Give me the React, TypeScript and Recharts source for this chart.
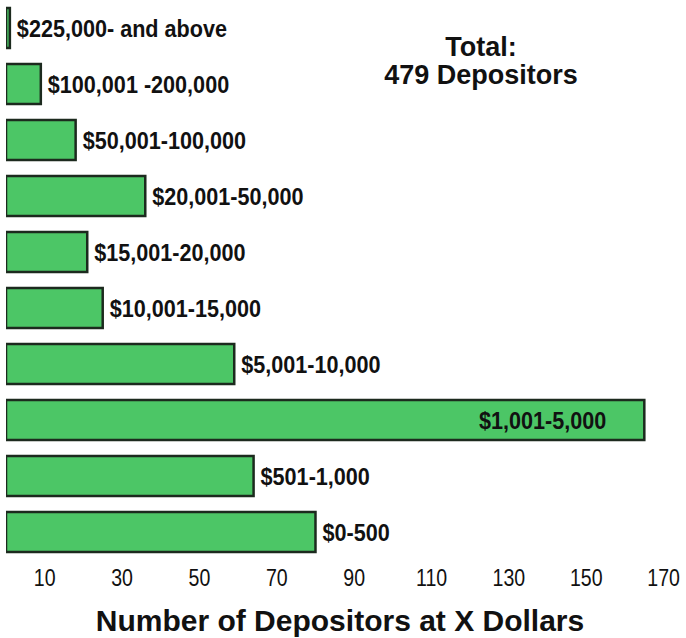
import { BarChart, Bar, XAxis, YAxis, LabelList } from 'recharts';

const categories = [
  '$225,000- and above',
  '$100,001 -200,000',
  '$50,001-100,000',
  '$20,001-50,000',
  '$15,001-20,000',
  '$10,001-15,000',
  '$5,001-10,000',
  '$1,001-5,000',
  '$501-1,000',
  '$0-500',
];
const depositors = [1, 9, 18, 36, 21, 25, 59, 165, 64, 80];
const xTicks = [10, 30, 50, 70, 90, 110, 130, 150, 170];

const data = categories.map((name, i) => ({ name, count: depositors[i] }));

const SANS = '"Liberation Sans", Arial, Helvetica, sans-serif';

// no condensed face installed, so squeeze Liberation Sans horizontally
function BarLabel(props: any) {
  const { x, y, width, height, value } = props;
  const inside = value === '$1,001-5,000';
  const cy = Number(y) + Number(height) / 2;
  const tx = inside ? Number(x) + Number(width) - 38 : Number(x) + Number(width) + 7;
  return (
    <text
      transform={`translate(${tx},${cy}) scale(0.9,1)`}
      x={0}
      y={0}
      dy="0.36em"
      textAnchor={inside ? 'end' : 'start'}
      fontFamily={SANS}
      fontWeight="bold"
      fontSize={24}
      fill="#111"
    >
      {value}
    </text>
  );
}

function XTick(props: any) {
  const { x, y, payload } = props;
  return (
    <text
      transform={`translate(${x},${y}) scale(0.85,1)`}
      x={0}
      y={0}
      dy="0.71em"
      textAnchor="middle"
      fontFamily={SANS}
      fontSize={23}
      fill="#111"
    >
      {payload.value}
    </text>
  );
}

export default function App() {
  return (
    <div style={{ position: 'absolute', left: 0, top: 0, width: 686, height: 638, background: '#fff' }}>
      <BarChart
        width={686}
        height={638}
        data={data}
        layout="vertical"
        margin={{ top: 0, right: 3, left: 6, bottom: 38 }}
      >
        <XAxis
          type="number"
          domain={[0, 175]}
          ticks={xTicks}
          allowDataOverflow
          axisLine={false}
          tickLine={false}
          tickSize={0}
          tickMargin={10}
          height={40}
          tick={XTick}
          interval={0}
        />
        <YAxis type="category" dataKey="name" hide width={0} />
        <Bar
          dataKey="count"
          barSize={40}
          fill="#4cc666"
          stroke="#1c2a1e"
          strokeWidth={2.5}
          isAnimationActive={false}
        >
          <LabelList dataKey="name" content={BarLabel} />
        </Bar>
      </BarChart>
      <div
        style={{
          position: 'absolute',
          left: 331,
          top: 33,
          width: 300,
          textAlign: 'center',
          fontFamily: SANS,
          fontWeight: 'bold',
          fontSize: 27,
          lineHeight: '28px',
          color: '#111',
        }}
      >
        Total:
        <br />
        479 Depositors
      </div>
      <div
        style={{
          position: 'absolute',
          left: 0,
          top: 606,
          width: 680,
          textAlign: 'center',
          fontFamily: SANS,
          fontWeight: 'bold',
          fontSize: 30,
          lineHeight: '30px',
          color: '#111',
        }}
      >
        Number of Depositors at X Dollars
      </div>
    </div>
  );
}
